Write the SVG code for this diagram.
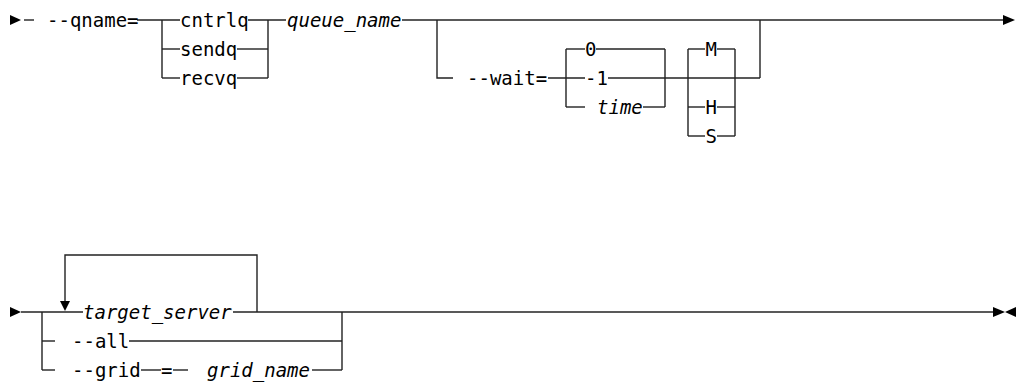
<svg xmlns="http://www.w3.org/2000/svg" width="1017" height="384" viewBox="0 0 1017 384">
<style>
.t{font-family:"DejaVu Sans Mono","Liberation Mono",monospace;font-size:19px;fill:#000}
.i{font-style:italic}
.c line,.c path{stroke:#222;stroke-width:1.4;fill:none}
.a{fill:#000}
</style>
<rect width="1017" height="384" fill="#fff"/>
<g id="connectors" class="c">
<line x1="24" y1="20" x2="34" y2="20"/>
<line x1="137" y1="20" x2="180" y2="20"/>
<line x1="162" y1="20" x2="162" y2="78"/>
<line x1="162" y1="49" x2="180" y2="49"/>
<line x1="162" y1="78" x2="180" y2="78"/>
<line x1="248" y1="20" x2="286" y2="20"/>
<line x1="237" y1="49" x2="268" y2="49"/>
<line x1="237" y1="78" x2="268" y2="78"/>
<line x1="268" y1="20" x2="268" y2="78"/>
<line x1="402" y1="20" x2="1003" y2="20"/>
<path d="M437,20 V78 H453"/>
<line x1="548" y1="78" x2="585" y2="78"/>
<line x1="566" y1="49" x2="566" y2="107"/>
<line x1="566" y1="49" x2="585" y2="49"/>
<line x1="566" y1="107" x2="585" y2="107"/>
<line x1="596" y1="49" x2="665" y2="49"/>
<line x1="608" y1="78" x2="760" y2="78"/>
<line x1="643" y1="107" x2="665" y2="107"/>
<line x1="665" y1="49" x2="665" y2="107"/>
<line x1="688" y1="49" x2="688" y2="136"/>
<line x1="735" y1="49" x2="735" y2="136"/>
<line x1="688" y1="49" x2="705" y2="49"/>
<line x1="717" y1="49" x2="735" y2="49"/>
<line x1="688" y1="107" x2="705" y2="107"/>
<line x1="717" y1="107" x2="735" y2="107"/>
<line x1="688" y1="136" x2="705" y2="136"/>
<line x1="717" y1="136" x2="735" y2="136"/>
<line x1="760" y1="20" x2="760" y2="78"/>
<line x1="21" y1="312" x2="83" y2="312"/>
<line x1="42" y1="312" x2="42" y2="370"/>
<line x1="42" y1="341" x2="55" y2="341"/>
<line x1="42" y1="370" x2="55" y2="370"/>
<path d="M257,312 V255 H65 V302"/>
<line x1="233" y1="312" x2="994" y2="312"/>
<line x1="129" y1="341" x2="342" y2="341"/>
<line x1="141" y1="370" x2="161" y2="370"/>
<line x1="173" y1="370" x2="188" y2="370"/>
<line x1="312" y1="370" x2="342" y2="370"/>
<line x1="342" y1="312" x2="342" y2="370"/>
<polygon class="a" points="10,15 21,20 10,25"/>
<polygon class="a" points="1003,15 1015,20 1003,25"/>
<polygon class="a" points="10,307 21,312 10,317"/>
<polygon class="a" points="60,301 70,301 65,311"/>
<polygon class="a" points="993,307 1005,312 993,317"/>
<polygon class="a" points="1016,307 1005,312 1016,317"/>
</g>
<g id="qname"><text class="t" x="47" y="26.5">--qname=</text></g>
<g id="cntrlq"><text class="t" x="180" y="26.5">cntrlq</text></g>
<g id="sendq"><text class="t" x="180" y="55.5">sendq</text></g>
<g id="recvq"><text class="t" x="180" y="84.5">recvq</text></g>
<g id="queue_name"><text class="t i" x="287" y="26.5">queue_name</text></g>
<g id="wait"><text class="t" x="467" y="84.5">--wait=</text></g>
<g id="w0"><text class="t" x="585" y="55.5">0</text></g>
<g id="w1"><text class="t" x="585" y="84.5">-1</text></g>
<g id="time"><text class="t i" x="597" y="113.5">time</text></g>
<g id="M"><text class="t" x="705.5" y="55.5">M</text></g>
<g id="H"><text class="t" x="705.5" y="113.5">H</text></g>
<g id="S"><text class="t" x="705.5" y="142.5">S</text></g>
<g id="target_server"><text class="t i" x="83" y="318.5">target_server</text></g>
<g id="all"><text class="t" x="72" y="347.5">--all</text></g>
<g id="grid"><text class="t" x="72" y="376.5">--grid</text></g>
<g id="eq"><text class="t" x="161" y="376.5">=</text></g>
<g id="grid_name"><text class="t i" x="207" y="376.5">grid_name</text></g>
</svg>
